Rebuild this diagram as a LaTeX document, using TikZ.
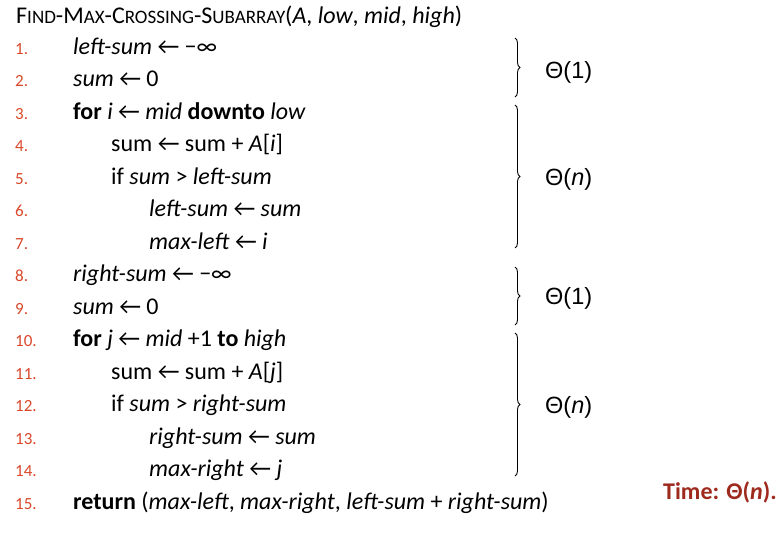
\documentclass[tikz,border=0pt]{standalone}
\usepackage{fontspec}
\setmainfont{Carlito}
\newfontfamily\arialf{Liberation Sans}
\usetikzlibrary{decorations.pathreplacing}
\definecolor{numred}{HTML}{D9482A}
\definecolor{timered}{HTML}{9E2A1E}
\newcommand{\sck}[1]{{\fontsize{19}{22}\selectfont #1}}
\newcommand{\la}{←}
\begin{document}
\begin{tikzpicture}[x=1pt,y=-1pt,
  code/.style={anchor=base west,inner sep=0pt,font=\fontsize{24}{28}\selectfont},
  num/.style={anchor=base west,inner sep=0pt,text=numred,font=\fontsize{17}{19}\selectfont},
  brc/.style={decorate,decoration={brace,amplitude=5pt},line width=0.9pt},
  cost/.style={anchor=west,inner sep=0pt,font=\arialf\fontsize{23.5}{26}\selectfont}]
\useasboundingbox (0,0) rectangle (780,537);
\node[code,font=\fontsize{24}{28}\selectfont] (title) at (16,24)
  {F\sck{IND}-M\sck{AX}-C\sck{ROSSING}-S\sck{UBARRAY}(\textit{A}, \textit{low}, \textit{mid}, \textit{high})};
\foreach \i in {1,...,15}{
  \node[num] (n\i) at (15,{54.3+32.5*(\i-1)}) {\i.};
}
\node[code] (l1) at (73,54.3) {\textit{left-sum} \la{} −∞};
\node[code] (l2) at (73,86.8) {\textit{sum} \la{} 0};
\node[code] (l3) at (73,119.3) {\textbf{for} \textit{i} \la{} \textit{mid} \textbf{downto} \textit{low}};
\node[code] (l4) at (111,151.8) {sum \la{} sum + \textit{A}[\textit{i}]};
\node[code] (l5) at (111,184.3) {if \textit{sum} > \textit{left-sum}};
\node[code] (l6) at (149,216.8) {\textit{left-sum} \la{} \textit{sum}};
\node[code] (l7) at (149,249.3) {\textit{max-left} \la{} \textit{i}};
\node[code] (l8) at (73,281.8) {\textit{right-sum} \la{} −∞};
\node[code] (l9) at (73,314.3) {\textit{sum} \la{} 0};
\node[code] (l10) at (73,346.8) {\textbf{for} \textit{j} \la{} \textit{mid} +1 \textbf{to} \textit{high}};
\node[code] (l11) at (111,379.3) {sum \la{} sum + \textit{A}[\textit{j}]};
\node[code] (l12) at (111,411.8) {if \textit{sum} > \textit{right-sum}};
\node[code] (l13) at (149,444.3) {\textit{right-sum} \la{} \textit{sum}};
\node[code] (l14) at (149,476.8) {\textit{max-right} \la{} \textit{j}};
\node[code] (l15) at (73,509.3) {\textbf{return} (\textit{max-left}, \textit{max-right}, \textit{left-sum} + \textit{right-sum})};
% braces
\coordinate (b1t) at (515,38);  \coordinate (b1b) at (515,97);
\coordinate (b2t) at (515,105); \coordinate (b2b) at (515,248);
\coordinate (b3t) at (515,267); \coordinate (b3b) at (515,325);
\coordinate (b4t) at (515,333); \coordinate (b4b) at (515,476);
\draw[brc] (b1t) -- (b1b);
\draw[brc] (b2t) -- (b2b);
\draw[brc] (b3t) -- (b3b);
\draw[brc] (b4t) -- (b4b);
\node[cost] (c1) at (545,72) {Θ(1)};
\node[cost] (c2) at (545,179) {Θ(\textit{n})};
\node[cost] (c3) at (545,298) {Θ(1)};
\node[cost] (c4) at (545,407) {Θ(\textit{n})};
\node[code,text=timered,font=\bfseries\fontsize{24}{28}\selectfont] (time) at (663,500) {Time: Θ(\textit{n}).};
\end{tikzpicture}
\end{document}
